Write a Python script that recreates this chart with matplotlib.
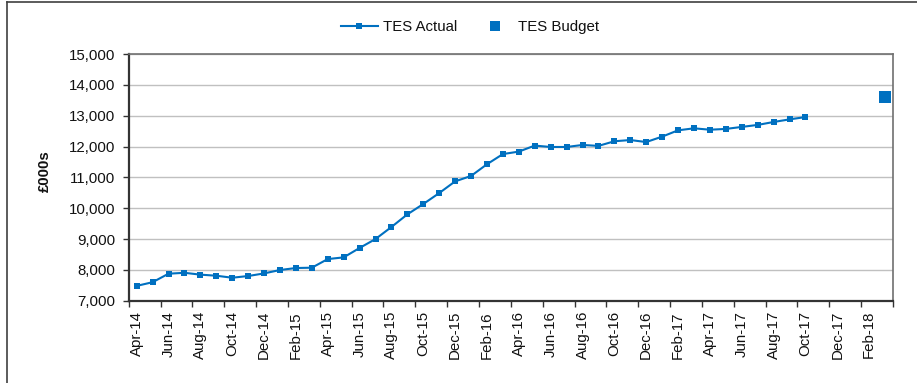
import matplotlib
matplotlib.use("Agg")
import matplotlib.pyplot as plt
from matplotlib.lines import Line2D
from matplotlib.ticker import FuncFormatter, FixedLocator

plt.rcParams['font.family'] = ['Liberation Sans', 'DejaVu Sans']

months = ["Apr-14", "May-14", "Jun-14", "Jul-14", "Aug-14", "Sep-14", "Oct-14", "Nov-14",
          "Dec-14", "Jan-15", "Feb-15", "Mar-15", "Apr-15", "May-15", "Jun-15", "Jul-15",
          "Aug-15", "Sep-15", "Oct-15", "Nov-15", "Dec-15", "Jan-16", "Feb-16", "Mar-16",
          "Apr-16", "May-16", "Jun-16", "Jul-16", "Aug-16", "Sep-16", "Oct-16", "Nov-16",
          "Dec-16", "Jan-17", "Feb-17", "Mar-17", "Apr-17", "May-17", "Jun-17", "Jul-17",
          "Aug-17", "Sep-17", "Oct-17", "Nov-17", "Dec-17", "Jan-18", "Feb-18", "Mar-18"]

tes_actual = [7480, 7600, 7875, 7905, 7845, 7810, 7745, 7800, 7885, 7995, 8060, 8070,
              8350, 8405, 8710, 9000, 9390, 9800, 10135, 10490, 10870, 11045, 11425, 11755,
              11835, 12030, 11985, 11985, 12050, 12020, 12170, 12210, 12145, 12320, 12525, 12590,
              12545, 12570, 12635, 12700, 12795, 12880, 12955]

budget_month = "Mar-18"
tes_budget = 13600

W, H = 917, 383
fig = plt.figure(figsize=(W / 100, H / 100), dpi=100)

left, right, top, bottom = 128.7, 893.0, 54.0, 300.7
ax = fig.add_axes([left / W, 1 - bottom / H, (right - left) / W, (bottom - top) / H])

blue = "#0070C0"
x_act = [months.index(m) for m in months[:len(tes_actual)]]
ax.plot(x_act, tes_actual, color=blue, lw=1.5, marker='s', markersize=4.2,
        markeredgewidth=0, zorder=3, label="TES Actual")
ax.plot([months.index(budget_month)], [tes_budget], ls='none', marker='s', markersize=8.2,
        color=blue, markeredgewidth=0, zorder=3, label="TES Budget")

ax.set_xlim(-0.5, len(months) - 0.5)
ax.set_ylim(7000, 15000)
ax.set_yticks(range(7000, 15001, 1000))
ax.yaxis.set_major_formatter(FuncFormatter(lambda v, p: f"{int(v):,}"))
ax.grid(axis='y', color='#c0c0c0', lw=1.0)
ax.set_axisbelow(True)

# x: tick marks at category boundaries every 2, labels at category centres every 2
ax.xaxis.set_major_locator(FixedLocator([i - 0.5 for i in range(0, len(months) + 1, 2)]))
ax.set_xticklabels([])
ax.xaxis.set_minor_locator(FixedLocator(list(range(0, len(months), 2))))
ax.xaxis.set_minor_formatter(FuncFormatter(lambda v, p: months[int(round(v))]))
ax.tick_params(axis='x', which='major', direction='out', length=4, width=1, color='#333333')
ax.tick_params(axis='x', which='minor', length=0, pad=7.5, labelrotation=90, labelsize=10.8,
               labelcolor='#111111')
ax.tick_params(axis='y', direction='out', length=4, width=1, color='#333333', pad=5.5,
               labelsize=10.8, labelcolor='#111111')

for s in ['left', 'bottom']:
    ax.spines[s].set_color('#333333')
    ax.spines[s].set_linewidth(1.6)
for s in ['top', 'right']:
    ax.spines[s].set_color('#707070')
    ax.spines[s].set_linewidth(1.2)

fig.text(45 / W, 1 - 171 / H, "£000s", rotation=90, ha='center', va='center',
         fontweight='bold', fontsize=10.8, color='#111111')

h1 = Line2D([], [], color=blue, lw=1.5, marker='s', markersize=4.2, markeredgewidth=0)
h2 = Line2D([], [], color=blue, ls='none', marker='s', markersize=7.7, markeredgewidth=0)
fig.legend([h1, h2], ["TES Actual", "TES Budget"], loc='center', ncol=2, frameon=False,
           bbox_to_anchor=(470 / W, 1 - 27 / H), fontsize=10.8, handlelength=2.5,
           handletextpad=0.3, columnspacing=1.3, labelcolor='#111111')

# outer chart border
fig.add_artist(Line2D([7 / W, 7 / W], [0, 1 - 2 / H], color='#404040', lw=1.2,
                      transform=fig.transFigure))
fig.add_artist(Line2D([7 / W, 1], [1 - 2 / H, 1 - 2 / H], color='#404040', lw=1.2,
                      transform=fig.transFigure))

fig.savefig("out.png", dpi=100)
